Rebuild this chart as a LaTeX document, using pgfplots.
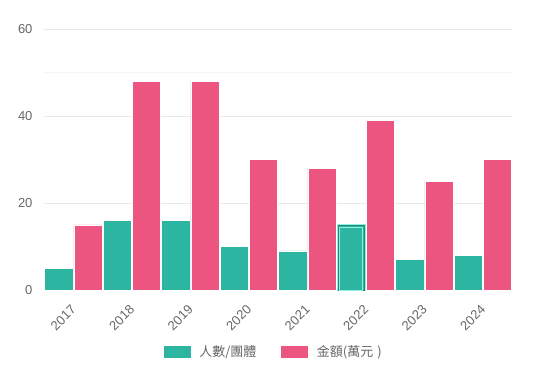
\documentclass[border=0pt]{standalone}
\usepackage{pgfplots}
\pgfplotsset{compat=1.18}
\usepackage{fontspec}
\setmainfont{Liberation Sans}
\newfontfamily\cjk{Noto Sans CJK TC}
\definecolor{teal1}{HTML}{2CB5A0}
\definecolor{pink1}{HTML}{EC5580}
\definecolor{lbl}{HTML}{666666}
\definecolor{grd}{HTML}{E9E9E9}
\definecolor{hl}{HTML}{8FEFE0}
\begin{document}
\begin{tikzpicture}
\begin{axis}[name=ax,
  scale only axis, width=468pt, height=261pt,
  xmin=-0.5, xmax=7.5, ymin=0, ymax=60,
  axis line style={draw=none},
  major tick length=0pt,
  ytick={0,20,40,60},
  extra y ticks={50}, extra y tick labels={},
  extra y tick style={grid style={draw=grd!45}},
  ymajorgrids, grid style={draw=grd, line width=0.8pt},
  xtick={0,...,7},
  xticklabels={2017,2018,2019,2020,2021,2022,2023,2024},
  x tick label style={xshift=-3pt, yshift=-14pt, rotate=45, anchor=north east, font=\fontsize{13}{13}\selectfont, text=lbl, inner sep=0pt},
  y tick label style={font=\fontsize{13}{13}\selectfont, text=lbl, xshift=-8pt},
  /pgf/number format/assume math mode=true,
  ybar, bar width=28.25pt,
  legend columns=2,
  legend style={at={(0.49,-0.2375)}, anchor=center, draw=none, fill=none,
    font=\fontsize{13}{13}\selectfont\cjk, text=lbl,
    /tikz/every odd column/.append style={column sep=6pt},
    /tikz/every even column/.append style={column sep=22pt}},
  legend image code/.code={\fill[#1] (0pt,-6.5pt) rectangle (28pt,6.5pt);},
]
\addplot[fill=teal1, draw=white, line width=0.4pt, bar shift=-14.625pt] coordinates {(0,5) (1,16) (2,16) (3,10) (4,9) (5,15) (6,7) (7,8)};
\addlegendentry{人數/團體}
\addplot[fill=pink1, draw=white, line width=0.4pt, bar shift=14.625pt] coordinates {(0,15) (1,48) (2,48) (3,30) (4,28) (5,39) (6,25) (7,30)};
\addlegendentry{金額(萬元\hspace{4pt})}
\addplot[forget plot, fill=none, draw=hl, line width=0.7pt, bar shift=-14.625pt, bar width=28pt] coordinates {(5,15)};
\addplot[forget plot, fill=none, draw=teal1!75!black, line width=0.7pt, bar shift=-14.625pt, bar width=26.2pt] coordinates {(5,14.8)};
\addplot[forget plot, fill=none, draw=hl, line width=0.7pt, bar shift=-14.625pt, bar width=23pt] coordinates {(5,14.4)};
\end{axis}
\path[use as bounding box] (ax.south west) ++(-44pt,-87pt) rectangle ([shift={(42pt,29pt)}]ax.north east);
\end{tikzpicture}
\end{document}
